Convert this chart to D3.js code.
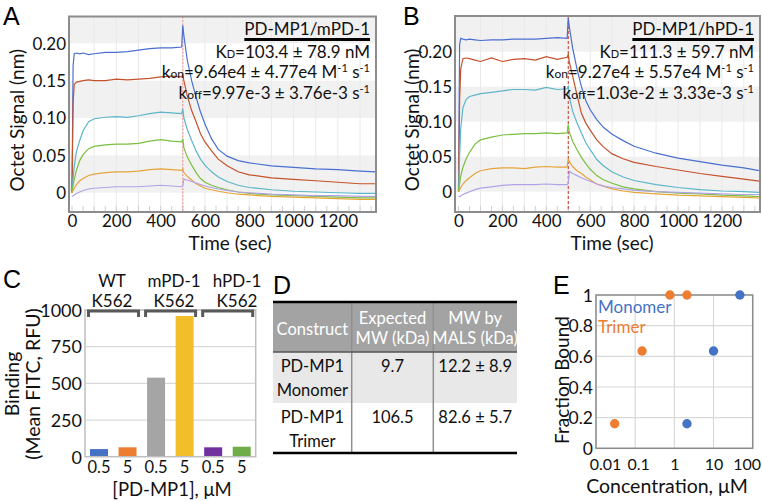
<!DOCTYPE html>
<html>
<head>
<meta charset="utf-8">
<script src="https://cdn.jsdelivr.net/npm/d3@7"></script>
<style>
  body { margin: 0; background: #fff; }
  svg { display: block; font-family: Lato, "Open Sans", sans-serif; font-weight: 400; }
</style>
</head>
<body>
<svg id="fig" width="762" height="501"></svg>
<script>
// ---- octet traces (A: mPD-1, B: hPD-1), time in sec, signal in nm ----
const timeSec = [0, 5, 10, 20, 35, 50, 75, 100, 150, 200, 250, 300, 350, 400, 450, 495,
  500, 505, 520, 540, 560, 580, 600, 630, 660, 700, 750, 800, 900, 1000, 1100, 1200, 1300, 1370];

const aBlue = [0, 0.17, 0.186, 0.187, 0.186, 0.187, 0.185, 0.186, 0.188, 0.188, 0.189, 0.191, 0.193, 0.194, 0.194, 0.195,
  0.224, 0.21, 0.178, 0.15, 0.128, 0.108, 0.092, 0.072, 0.058, 0.049, 0.043, 0.040, 0.036, 0.034, 0.032, 0.031, 0.029, 0.028];
const aRed = [0, 0.12, 0.145, 0.148, 0.149, 0.150, 0.151, 0.150, 0.150, 0.152, 0.151, 0.152, 0.153, 0.155, 0.156, 0.155,
  0.158, 0.150, 0.130, 0.110, 0.095, 0.079, 0.068, 0.056, 0.045, 0.036, 0.028, 0.024, 0.020, 0.018, 0.016, 0.014, 0.012, 0.012];
const aCyan = [0, 0.02, 0.035, 0.055, 0.07, 0.083, 0.095, 0.099, 0.101, 0.102, 0.101, 0.103, 0.106, 0.108, 0.107, 0.106,
  0.112, 0.100, 0.085, 0.070, 0.056, 0.045, 0.037, 0.028, 0.021, 0.015, 0.010, 0.007, 0.004, 0.002, 0.001, 0.0, -0.001, -0.001];
const aGreen = [0, 0.01, 0.018, 0.03, 0.043, 0.051, 0.059, 0.062, 0.064, 0.065, 0.065, 0.066, 0.069, 0.071, 0.069, 0.068,
  0.072, 0.060, 0.048, 0.037, 0.027, 0.019, 0.014, 0.010, 0.007, 0.004, 0.001, -0.001, -0.003, -0.004, -0.005, -0.006, -0.007, -0.007];
const aOrange = [0, 0.003, 0.006, 0.011, 0.016, 0.019, 0.023, 0.025, 0.027, 0.028, 0.028, 0.029, 0.031, 0.032, 0.031, 0.030,
  0.032, 0.027, 0.022, 0.017, 0.012, 0.009, 0.006, 0.004, 0.002, 0.0, -0.002, -0.003, -0.005, -0.006, -0.007, -0.008, -0.009, -0.009];
const aLilac = [-0.005, -0.004, -0.003, -0.001, 0.001, 0.003, 0.005, 0.006, 0.007, 0.008, 0.008, 0.008, 0.009, 0.010, 0.009, 0.008,
  0.010, 0.018, 0.017, 0.015, 0.013, 0.011, 0.009, 0.007, 0.005, 0.003, 0.001, 0.0, -0.002, -0.003, -0.004, -0.004, -0.005, -0.005];

const bBlue = [0, 0.21, 0.219, 0.218, 0.217, 0.218, 0.217, 0.216, 0.217, 0.217, 0.218, 0.218, 0.218, 0.219, 0.220, 0.219,
  0.248, 0.235, 0.205, 0.175, 0.150, 0.130, 0.117, 0.103, 0.092, 0.082, 0.073, 0.065, 0.055, 0.048, 0.043, 0.038, 0.034, 0.030];
const bRed = [0, 0.13, 0.175, 0.190, 0.191, 0.190, 0.188, 0.186, 0.191, 0.186, 0.189, 0.190, 0.188, 0.193, 0.189, 0.192,
  0.196, 0.185, 0.165, 0.138, 0.112, 0.098, 0.088, 0.074, 0.064, 0.054, 0.047, 0.042, 0.036, 0.031, 0.026, 0.022, 0.018, 0.015];
const bCyan = [0, 0.05, 0.09, 0.12, 0.132, 0.136, 0.138, 0.140, 0.142, 0.144, 0.146, 0.146, 0.145, 0.149, 0.146, 0.147,
  0.150, 0.135, 0.115, 0.098, 0.084, 0.070, 0.060, 0.046, 0.037, 0.028, 0.021, 0.016, 0.010, 0.006, 0.003, 0.001, 0.0, -0.001];
const bGreen = [0, 0.012, 0.022, 0.035, 0.047, 0.056, 0.068, 0.074, 0.078, 0.081, 0.082, 0.083, 0.083, 0.084, 0.083, 0.084,
  0.096, 0.085, 0.072, 0.060, 0.049, 0.040, 0.032, 0.023, 0.017, 0.012, 0.007, 0.004, 0.0, -0.002, -0.003, -0.005, -0.006, -0.007];
const bOrange = [0, 0.003, 0.006, 0.011, 0.016, 0.020, 0.026, 0.030, 0.033, 0.034, 0.034, 0.033, 0.035, 0.036, 0.035, 0.035,
  0.047, 0.043, 0.036, 0.030, 0.026, 0.021, 0.017, 0.011, 0.008, 0.004, 0.001, -0.001, -0.003, -0.005, -0.006, -0.007, -0.008, -0.009];
const bLilac = [-0.007, -0.007, -0.006, -0.004, -0.002, 0.0, 0.003, 0.005, 0.007, 0.009, 0.010, 0.010, 0.010, 0.011, 0.010, 0.010,
  0.012, 0.029, 0.026, 0.023, 0.020, 0.017, 0.015, 0.011, 0.008, 0.006, 0.004, 0.002, 0.0, -0.001, -0.002, -0.003, -0.004, -0.004];

const traceColors = ["#4a6fd0", "#c4522c", "#5cb6c8", "#7bbf3f", "#e6a53a", "#b3a2e6"];
const timeTicks = [0, 200, 400, 600, 800, 1000, 1200];
const signalTicks = [0, 0.05, 0.10, 0.15, 0.20];

// ---- C: cell binding ----
const bindGroups = ["WT", "mPD-1", "hPD-1"];
const bindConc = ["0.5", "5", "0.5", "5", "0.5", "5"];
const bindValues = [52, 64, 539, 959, 64, 68];
const bindColors = ["#4472c4", "#ed7d31", "#a5a5a5", "#f2be2a", "#7030a0", "#70ad47"];
const bindTicks = [0, 250, 500, 750, 1000];

// ---- D: MALS table ----
const tableHeader = [["Construct"], ["Expected", "MW (kDa)"], ["MW by", "MALS (kDa)"]];
const tableRows = [
  [["PD-MP1", "Monomer"], ["9.7"], ["12.2 ± 8.9"]],
  [["PD-MP1", "Trimer"], ["106.5"], ["82.6 ± 5.7"]]
];

// ---- E: fraction bound ----
const monomerConc = [2.1, 10, 47];
const monomerFrac = [0.16, 0.635, 1];
const trimerConc = [0.03, 0.15, 0.77, 2.1];
const trimerFrac = [0.16, 0.635, 1, 1];
const concTicks = [0.01, 0.1, 1, 10, 100];
const fracTicks = [0, 0.2, 0.4, 0.6, 0.8, 1];

const svg = d3.select("#fig");
svg.append("rect").attr("width", 762).attr("height", 501).attr("fill", "#fff");

function letter(t, x, y) {
  svg.append("text").attr("x", x).attr("y", y).text(t)
    .style("font-family", "Liberation Sans, Arial, sans-serif").style("font-size", "25px").attr("fill", "#000");
}

function styleTicks(sel, size) {
  sel.selectAll("text").attr("dy", "0.35em").style("font-size", size + "px").attr("fill", "#111")
    .style("font-family", "Lato, sans-serif").style("font-weight", 400);
}

function drawOctet(p) {
  const x = d3.scaleLinear().domain(p.xDomain).range([p.left, p.right]);
  const y = d3.scaleLinear().domain(p.yDomain).range([p.bottom, p.top]);
  const g = svg.append("g");
  const clipId = "clip" + p.id;
  g.append("clipPath").attr("id", clipId).append("rect")
    .attr("x", p.left).attr("y", p.top).attr("width", p.right - p.left).attr("height", p.bottom - p.top);

  // light bands
  const bands = [[0, 0.05], [0.10, 0.15], [0.20, p.yDomain[1]]];
  g.selectAll("rect.band").data(bands).enter().append("rect").attr("class", "band")
    .attr("x", p.left).attr("width", p.right - p.left)
    .attr("y", d => y(d[1])).attr("height", d => y(d[0]) - y(d[1]))
    .attr("fill", "#f1f1f1");
  // faint vertical grid
  g.selectAll("line.vg").data(d3.range(100, 1400, 100)).enter().append("line").attr("class", "vg")
    .attr("x1", d => x(d)).attr("x2", d => x(d)).attr("y1", p.top).attr("y2", p.bottom)
    .attr("stroke", "#e9e9e9").attr("stroke-width", 1);
  // minor ticks
  g.selectAll("line.mt").data(d3.range(0, 1400, 50)).enter().append("line").attr("class", "mt")
    .attr("x1", d => x(d)).attr("x2", d => x(d)).attr("y1", p.bottom - 6).attr("y2", p.bottom)
    .attr("stroke", "#d0d0d0").attr("stroke-width", 1);

  // step line at 500 s
  g.append("line").attr("x1", x(500)).attr("x2", x(500)).attr("y1", p.top).attr("y2", p.bottom)
    .attr("stroke", p.markColor).attr("stroke-width", 1).attr("stroke-dasharray", p.markDash);

  const line = d3.line().x((d, i) => x(timeSec[i])).y(d => y(d));
  g.append("g").attr("clip-path", "url(#" + clipId + ")")
    .selectAll("path").data(p.series).enter().append("path")
    .attr("d", line).attr("fill", "none")
    .attr("stroke", (d, i) => traceColors[i]).attr("stroke-width", 1.2);

  g.append("rect").attr("x", p.left).attr("y", p.top).attr("width", p.right - p.left).attr("height", p.bottom - p.top)
    .attr("fill", "none").attr("stroke", "#8c8c8c").attr("stroke-width", 2);

  const xa = g.append("g").attr("transform", `translate(0,${p.bottom})`)
    .call(d3.axisBottom(x).tickValues(timeTicks).tickSize(0).tickPadding(0).tickFormat(d3.format("d")));
  xa.select(".domain").remove();
  styleTicks(xa, 17);
  xa.selectAll("text").attr("y", 9);

  const ya = g.append("g").attr("transform", `translate(${p.left},0)`)
    .call(d3.axisLeft(y).tickValues(signalTicks).tickSize(0).tickPadding(3)
      .tickFormat(d => d === 0 ? "0" : d3.format(".2f")(d)));
  ya.select(".domain").remove();
  styleTicks(ya, 17);

  g.append("text").attr("x", p.xTitle).attr("y", 243).attr("dy", "0.35em").attr("text-anchor", "middle")
    .style("font-size", "19px").attr("fill", "#111").text("Time (sec)");
  g.append("text").attr("transform", `translate(${p.yTitle},${(p.top + p.bottom) / 2 + 6}) rotate(-90)`)
    .attr("dy", "0.35em").attr("text-anchor", "middle")
    .style("font-size", "19px").attr("fill", "#111").text("Octet Signal (nm)");

  // kinetics annotation
  const ax = p.right - 6;
  const t0 = g.append("text").attr("x", ax).attr("y", 29).attr("dy", "0.35em").attr("text-anchor", "end")
    .style("font-size", "17px").attr("fill", "#111").text(p.title);
  const w = t0.node().getComputedTextLength();
  g.append("line").attr("x1", ax - w).attr("x2", ax).attr("y1", 39.5).attr("y2", 39.5)
    .attr("stroke", "#000").attr("stroke-width", 3);

  const kd = g.append("text").attr("x", ax).attr("y", 52).attr("dy", "0.35em").attr("text-anchor", "end")
    .style("font-size", "17px").attr("fill", "#111");
  kd.append("tspan").text("K");
  kd.append("tspan").style("font-size", "11px").text("D");
  kd.append("tspan").text("=" + p.kd);

  const kon = g.append("text").attr("x", ax).attr("y", 72.5).attr("dy", "0.35em").attr("text-anchor", "end")
    .style("font-size", "17px").attr("fill", "#111");
  kon.append("tspan").text("k");
  kon.append("tspan").style("font-size", "12px").text("on");
  kon.append("tspan").text("=" + p.kon + " M");
  kon.append("tspan").style("font-size", "11px").attr("dy", -6).text("-1");
  kon.append("tspan").attr("dy", 6).text(" s");
  kon.append("tspan").style("font-size", "11px").attr("dy", -6).text("-1");

  const koff = g.append("text").attr("x", ax).attr("y", 93.5).attr("dy", "0.35em").attr("text-anchor", "end")
    .style("font-size", "17px").attr("fill", "#111");
  koff.append("tspan").text("k");
  koff.append("tspan").style("font-size", "12px").text("off");
  koff.append("tspan").text("=" + p.koff + " s");
  koff.append("tspan").style("font-size", "11px").attr("dy", -6).text("-1");
}

drawOctet({
  id: "A", left: 69, right: 376, top: 16.5, bottom: 212,
  xDomain: [-13.5, 1372], yDomain: [-0.0258, 0.2359],
  series: [aBlue, aRed, aCyan, aGreen, aOrange, aLilac],
  markColor: "#f08a8a", markDash: "2,1.5", xTitle: 230, yTitle: 17,
  title: "PD-MP1/mPD-1", kd: "103.4 ± 78.9 nM", kon: "9.64e4 ± 4.77e4", koff: "9.97e-3 ± 3.76e-3"
});
drawOctet({
  id: "B", left: 455, right: 760, top: 16, bottom: 212,
  xDomain: [-16, 1373.6], yDomain: [-0.029, 0.251],
  series: [bBlue, bRed, bCyan, bGreen, bOrange, bLilac],
  markColor: "#c0392b", markDash: "3,2", xTitle: 612, yTitle: 412,
  title: "PD-MP1/hPD-1", kd: "111.3 ± 59.7 nM", kon: "9.27e4 ± 5.57e4", koff: "1.03e-2 ± 3.33e-3"
});
letter("A", 3, 25);
letter("B", 403, 25);

// ---------- C ----------
(function () {
  const left = 85, right = 255.7, top = 310, bottom = 456.7;
  const idx = d3.range(bindValues.length);
  const x = d3.scaleBand().domain(idx).range([left, right]).paddingInner(0.37).paddingOuter(0.175);
  const y = d3.scaleLinear().domain([0, 1000]).range([bottom, top]);
  const g = svg.append("g");
  g.selectAll("line.grid").data([250, 500, 750]).enter().append("line")
    .attr("x1", left).attr("x2", right).attr("y1", d => y(d)).attr("y2", d => y(d))
    .attr("stroke", "#d9d9d9").attr("stroke-width", 1.2);
  g.selectAll("rect.bar").data(bindValues).enter().append("rect")
    .attr("x", (d, i) => x(i)).attr("width", x.bandwidth())
    .attr("y", d => y(d)).attr("height", d => y(0) - y(d))
    .attr("fill", (d, i) => bindColors[i]);
  g.append("rect").attr("x", left).attr("y", top).attr("width", right - left).attr("height", bottom - top)
    .attr("fill", "none").attr("stroke", "#bfbfbf").attr("stroke-width", 1.5);

  const ya = g.append("g").attr("transform", `translate(${left},0)`)
    .call(d3.axisLeft(y).tickValues(bindTicks).tickSize(0).tickPadding(3).tickFormat(d3.format("d")));
  ya.select(".domain").remove();
  styleTicks(ya, 18);
  const xa = g.append("g").attr("transform", `translate(0,${bottom})`)
    .call(d3.axisBottom(x).tickSize(0).tickFormat(i => bindConc[i]));
  xa.select(".domain").remove();
  styleTicks(xa, 16.5);
  xa.selectAll("text").attr("y", 11);

  // group brackets
  const labelX = [112, 174, 237];
  bindGroups.forEach((name, k) => {
    const x1 = x(2 * k) - 1.5, x2 = x(2 * k + 1) + x.bandwidth() + 2;
    g.append("path").attr("d", `M${x1},${top + 7}V${top + 1}H${x2}V${top + 7}`)
      .attr("fill", "none").attr("stroke", "#595959").attr("stroke-width", 3);
    g.append("text").attr("x", labelX[k]).attr("y", 281).attr("dy", "0.35em").attr("text-anchor", "middle")
      .style("font-size", "17px").attr("fill", "#111").text(name);
    g.append("text").attr("x", labelX[k]).attr("y", 301).attr("dy", "0.35em").attr("text-anchor", "middle")
      .style("font-size", "17px").attr("fill", "#111").text("K562");
  });
  g.append("text").attr("x", 172).attr("y", 489.5).attr("dy", "0.35em").attr("text-anchor", "middle")
    .style("font-size", "18.5px").attr("fill", "#111").text("[PD-MP1], μM");
  g.append("text").attr("transform", "translate(12,384) rotate(-90)").attr("dy", "0.35em")
    .attr("text-anchor", "middle").style("font-size", "19.5px").attr("fill", "#111").text("Binding");
  g.append("text").attr("transform", "translate(33,384) rotate(-90)").attr("dy", "0.35em")
    .attr("text-anchor", "middle").style("font-size", "19.5px").attr("fill", "#111").text("(Mean FITC, RFU)");
})();
letter("C", 3, 288);

// ---------- D ----------
(function () {
  const colX = [273, 351.7, 433.3, 517];
  const rowY = [302, 352, 403, 453];
  const g = svg.append("g");
  const fills = ["#a3a3a3", "#e8e8e8", "#ffffff"];
  g.selectAll("rect.row").data(fills).enter().append("rect")
    .attr("x", colX[0]).attr("width", colX[3] - colX[0])
    .attr("y", (d, i) => rowY[i]).attr("height", (d, i) => rowY[i + 1] - rowY[i]).attr("fill", d => d);
  g.selectAll("line.col").data([colX[1], colX[2]]).enter().append("line")
    .attr("x1", d => d).attr("x2", d => d).attr("y1", rowY[0]).attr("y2", rowY[3])
    .attr("stroke", "#8f8f8f").attr("stroke-width", 1.5);
  g.append("line").attr("x1", colX[0]).attr("x2", colX[3]).attr("y1", rowY[1]).attr("y2", rowY[1])
    .attr("stroke", "#555").attr("stroke-width", 1.5);
  [rowY[0], rowY[3]].forEach(yy => g.append("line").attr("x1", colX[0]).attr("x2", colX[3])
    .attr("y1", yy).attr("y2", yy).attr("stroke", "#000").attr("stroke-width", 2.5));

  const cells = [];
  tableHeader.forEach((lines, c) => cells.push({ lines, c, r: 0, head: true }));
  tableRows.forEach((row, r) => row.forEach((lines, c) => cells.push({ lines, c, r: r + 1, head: false })));
  cells.forEach(cell => {
    const cx = (colX[cell.c] + colX[cell.c + 1]) / 2;
    let ys;
    if (cell.head) ys = cell.lines.length === 1 ? [329] : [318, 338];
    else ys = cell.lines.map((l, i) => rowY[cell.r] + 14 + i * 24);
    cell.lines.forEach((l, i) => g.append("text").attr("x", cx).attr("y", ys[i]).attr("dy", "0.35em")
      .attr("text-anchor", "middle").style("font-size", "16.5px")
      .attr("fill", cell.head ? "#fff" : "#111").text(l));
  });
})();
letter("D", 273, 294);

// ---------- E ----------
(function () {
  const left = 596, right = 752.7, top = 295, bottom = 448.3;
  const x = d3.scaleLog().domain([0.01, 100]).range([left, right]);
  const y = d3.scaleLinear().domain([0, 1]).range([bottom, top]);
  const g = svg.append("g");
  g.selectAll("line.hg").data(fracTicks).enter().append("line")
    .attr("x1", left).attr("x2", right).attr("y1", d => y(d)).attr("y2", d => y(d))
    .attr("stroke", "#d9d9d9").attr("stroke-width", 1.2);
  g.selectAll("line.vg").data(concTicks).enter().append("line")
    .attr("x1", d => x(d)).attr("x2", d => x(d)).attr("y1", top).attr("y2", bottom)
    .attr("stroke", "#d9d9d9").attr("stroke-width", 1.2);
  g.append("rect").attr("x", left).attr("y", top).attr("width", right - left).attr("height", bottom - top)
    .attr("fill", "none").attr("stroke", "#8c8c8c").attr("stroke-width", 1.5);

  const ya = g.append("g").attr("transform", `translate(${left},0)`)
    .call(d3.axisLeft(y).tickValues(fracTicks).tickSize(0).tickPadding(3).tickFormat(d3.format("")));
  ya.select(".domain").remove();
  styleTicks(ya, 17.5);
  const xa = g.append("g").attr("transform", `translate(0,${bottom})`)
    .call(d3.axisBottom(x).tickValues(concTicks).tickSize(0).tickFormat(d3.format("")));
  xa.select(".domain").remove();
  styleTicks(xa, 16);
  // edge labels nudged inward as in the original
  xa.selectAll("text").attr("y", 16).attr("dx", d => d === 0.01 ? 9 : d === 0.1 ? 3 : d === 100 ? -6 : 0);

  const dots = [
    { xs: monomerConc, ys: monomerFrac, color: "#4472c4" },
    { xs: trimerConc, ys: trimerFrac, color: "#ed7d31" }
  ];
  dots.forEach(s => g.selectAll(null).data(s.xs).enter().append("circle")
    .attr("cx", d => x(d)).attr("cy", (d, i) => y(s.ys[i])).attr("r", 4.7).attr("fill", s.color));

  g.append("text").attr("x", 598).attr("y", 307).attr("dy", "0.35em").style("font-size", "17px")
    .attr("fill", "#4472c4").text("Monomer");
  g.append("text").attr("x", 598).attr("y", 327.5).attr("dy", "0.35em").style("font-size", "17px")
    .attr("fill", "#ed7d31").text("Trimer");
  g.append("text").attr("x", 667).attr("y", 486).attr("dy", "0.35em").attr("text-anchor", "middle")
    .style("font-size", "19.5px").attr("fill", "#111").text("Concentration, μM");
  g.append("text").attr("transform", "translate(562,380) rotate(-90)").attr("dy", "0.35em")
    .attr("text-anchor", "middle").style("font-size", "19px").attr("fill", "#111").text("Fraction Bound");
})();
letter("E", 553, 294);
</script>
</body>
</html>
